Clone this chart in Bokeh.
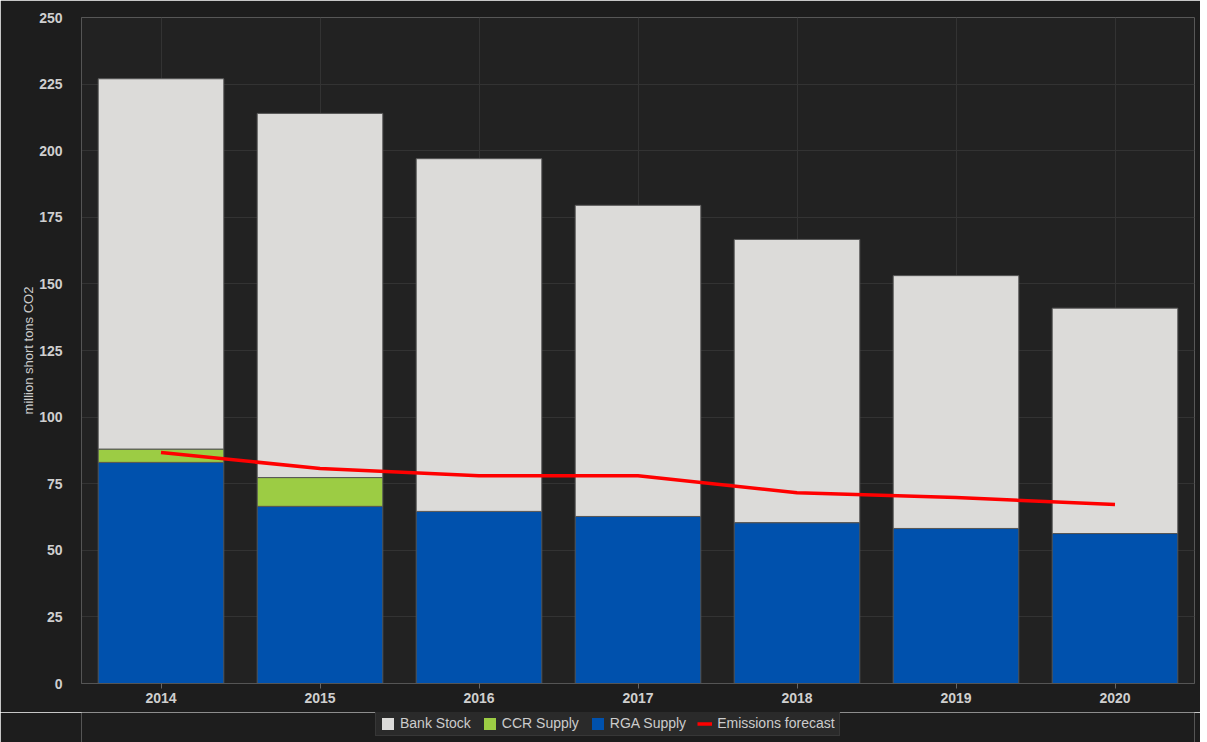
from bokeh.plotting import figure
from bokeh.layouts import column
from bokeh.models import (FactorRange, Range1d, SingleIntervalTicker, Legend, LegendItem)
from bokeh.embed import file_html
from bokeh.resources import INLINE

years = ["2014", "2015", "2016", "2017", "2018", "2019", "2020"]
rga_supply = [83.0, 66.5, 64.6, 62.7, 60.4, 58.2, 56.3]
ccr_supply = [5.0, 10.8, 0.0, 0.0, 0.0, 0.0, 0.0]
bank_stock = [139.0, 136.7, 132.4, 116.8, 106.3, 94.9, 84.6]
emissions = [86.7, 80.7, 78.0, 78.0, 71.6, 69.8, 67.2]
series_names = ["Bank Stock", "CCR Supply", "RGA Supply", "Emissions forecast"]

FONT = "Liberation Sans"
BG = "#1d1d1d"
C_BANK, C_CCR, C_RGA, C_EM = "#dcdbd9", "#9ccc44", "#0051ad", "#ff0000"

p = figure(x_range=FactorRange(*years, range_padding=0.0),
           y_range=Range1d(0, 250),
           width=1200, height=712,
           output_backend="svg", toolbar_location=None,
           min_border_left=81, min_border_top=17, min_border_right=6, min_border_bottom=29)

p.background_fill_color = "#222222"
p.border_fill_color = BG
p.outline_line_color = None

data = dict(years=years, rga=rga_supply, ccr=ccr_supply, bank=bank_stock)
p.vbar_stack(["rga", "ccr", "bank"], x="years", width=0.79, source=data,
             color=[C_RGA, C_CCR, C_BANK], line_color="#555555", line_width=1)
p.line(years, emissions, line_color=C_EM, line_width=3.5)

p.yaxis.ticker = SingleIntervalTicker(interval=25)
p.yaxis.axis_label = "million short tons CO2"
p.yaxis.axis_label_text_font = FONT
p.yaxis.axis_label_text_font_size = "13px"
p.yaxis.axis_label_text_font_style = "normal"
p.yaxis.axis_label_text_color = "#cccccc"
p.yaxis.axis_label_standoff = 0
p.yaxis.major_tick_line_color = None
p.yaxis.minor_tick_line_color = None
p.yaxis.major_label_standoff = 13
p.yaxis.axis_line_color = "#555555"

for ax in (p.xaxis, p.yaxis):
    ax.major_label_text_font = FONT
    ax.major_label_text_font_size = "14px"
    ax.major_label_text_font_style = "bold"
    ax.major_label_text_color = "#cfcfcf"

p.xaxis.axis_line_color = "#555555"
p.xaxis.major_tick_line_color = "#666666"
p.xaxis.major_tick_out = 5
p.xaxis.major_tick_in = 0
p.xaxis.major_label_standoff = 4

p.xgrid.grid_line_color = "#333333"
p.ygrid.grid_line_color = "#333333"

# legend strip below the chart (dummy swatch renderers lie outside its visible range)
lg = figure(width=1200, height=30, output_backend="svg", toolbar_location=None,
            x_range=Range1d(0, 1), y_range=Range1d(0, 1),
            min_border_left=81, min_border_right=6, min_border_top=0, min_border_bottom=0,
            x_axis_type=None, y_axis_type=None)
lg.background_fill_color = BG
lg.background_fill_alpha = 1.0
lg.border_fill_color = BG
lg.outline_line_color = None
off = dict(left=[5], right=[6], bottom=[5], top=[6])
r_bank = lg.quad(source=dict(off), fill_color=C_BANK, line_color=None)
r_ccr = lg.quad(source=dict(off), fill_color=C_CCR, line_color=None)
r_rga = lg.quad(source=dict(off), fill_color=C_RGA, line_color=None)
r_em = lg.line(x=[5, 6], y=[5, 5], line_color=C_EM, line_width=3.5)

legend = Legend(items=[
    LegendItem(label=series_names[0], renderers=[r_bank]),
    LegendItem(label=series_names[1], renderers=[r_ccr]),
    LegendItem(label=series_names[2], renderers=[r_rga]),
    LegendItem(label=series_names[3], renderers=[r_em]),
], orientation="horizontal", location=(294, 6))
legend.background_fill_color = "#2a2a2a"
legend.background_fill_alpha = 1.0
legend.border_line_color = "#444444"
legend.label_text_font = FONT
legend.label_text_font_size = "14px"
legend.label_text_color = "#cccccc"
legend.glyph_width = 15
legend.glyph_height = 15
legend.label_height = 14
legend.label_standoff = 5
legend.spacing = 11
legend.padding = 4
legend.margin = 0
lg.add_layout(legend, "center")

layout = column(p, lg, spacing=0)
open("out.html", "w").write(file_html(layout, INLINE))
